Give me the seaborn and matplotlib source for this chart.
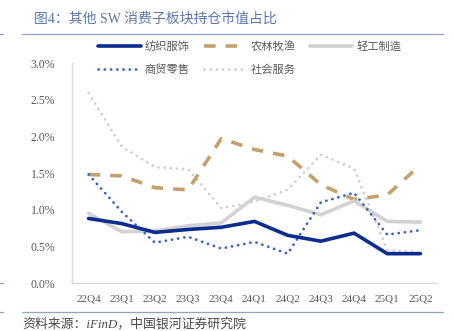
import matplotlib
matplotlib.use("Agg")
import matplotlib.pyplot as plt
from matplotlib.lines import Line2D
from matplotlib.ticker import FuncFormatter
import seaborn as sns
import pandas as pd

quarters = ["22Q4", "23Q1", "23Q2", "23Q3", "23Q4", "24Q1", "24Q2", "24Q3", "24Q4", "25Q1", "25Q2"]
textile = [0.88, 0.81, 0.69, 0.73, 0.76, 0.84, 0.65, 0.57, 0.68, 0.40, 0.40]      # 纺织服饰
agri = [1.48, 1.46, 1.30, 1.27, 1.97, 1.82, 1.73, 1.34, 1.14, 1.20, 1.61]         # 农林牧渔
light_ind = [0.95, 0.70, 0.71, 0.78, 0.82, 1.17, 1.06, 0.93, 1.12, 0.84, 0.83]    # 轻工制造
retail = [1.48, 0.97, 0.55, 0.63, 0.47, 0.56, 0.40, 1.10, 1.23, 0.66, 0.72]       # 商贸零售
social = [2.59, 1.86, 1.58, 1.55, 1.02, 1.11, 1.27, 1.75, 1.56, 0.45, 0.41]       # 社会服务
series_names = ["纺织服饰", "农林牧渔", "轻工制造", "商贸零售", "社会服务"]
y_ticks = [0.0, 0.5, 1.0, 1.5, 2.0, 2.5, 3.0]

title = "图4：其他 SW 消费子板块持仓市值占比"
source = "资料来源：iFinD，中国银河证券研究院"

sns.set_theme(style="white")
plt.rcParams["font.family"] = ["Liberation Serif", "Noto Sans CJK SC", "DejaVu Sans"]

W, H = 454, 331
fig = plt.figure(figsize=(W / 100, H / 100), dpi=100)
fig.patch.set_facecolor("white")
ax = fig.add_axes([72 / W, 1 - 283 / H, (437 - 72) / W, (283 - 63) / H])

df = pd.DataFrame({"q": quarters, "纺织服饰": textile, "农林牧渔": agri,
                   "轻工制造": light_ind, "商贸零售": retail, "社会服务": social})

styles = {
    "纺织服饰": dict(color="#0a2d8f", lw=2.6, ls="-", cap="round"),
    "农林牧渔": dict(color="#c4a06c", lw=2.6, ls=(0, (3.2, 2.8)), cap="butt"),
    "轻工制造": dict(color="#d2d2d2", lw=2.6, ls="-", cap="round"),
    "商贸零售": dict(color="#3a63c2", lw=2.0, ls=(0, (0.05, 2.2)), cap="round"),
    "社会服务": dict(color="#cdcdcd", lw=1.9, ls=(0, (0.05, 2.3)), cap="round"),
}
draw_order = ["社会服务", "农林牧渔", "轻工制造", "商贸零售", "纺织服饰"]
handles = {}
for name in draw_order:
    st = styles[name]
    n_before = len(ax.lines)
    sns.lineplot(data=df, x="q", y=name, ax=ax, color=st["color"], linewidth=st["lw"],
                 linestyle=st["ls"], sort=False, label=name, legend=False)
    line = ax.lines[n_before]
    line.set_dash_capstyle(st["cap"])
    line.set_solid_capstyle("round")
    handles[name] = line

ax.set_xlim(-0.5, 10.5)
ax.set_ylim(0, 3.0)
ax.set_yticks(y_ticks)
ax.yaxis.set_major_formatter(FuncFormatter(lambda v, p: f"{v:.1f}%"))
ax.set_xlabel("")
ax.set_ylabel("")
for s in ["top", "right"]:
    ax.spines[s].set_visible(False)
for s in ["left", "bottom"]:
    ax.spines[s].set_color("#d9d9d9")
    ax.spines[s].set_linewidth(1.0)
ax.tick_params(axis="both", length=0, colors="#595959")
ax.tick_params(axis="y", pad=12, labelsize=8.5)
ax.tick_params(axis="x", pad=8, labelsize=8)
for lab in ax.get_xticklabels() + ax.get_yticklabels():
    lab.set_fontfamily(["Liberation Serif"])
ax.grid(False)

leg_order = ["纺织服饰", "商贸零售", "农林牧渔", "社会服务", "轻工制造"]
leg = fig.legend([handles[n] for n in leg_order], leg_order, ncol=3,
                 loc="upper left", bbox_to_anchor=(98 / W, 1 - 41 / H),
                 frameon=False, borderpad=0, borderaxespad=0,
                 handlelength=3.8, handletextpad=0.35, columnspacing=1.25,
                 labelspacing=1.15,
                 prop={"family": ["Noto Sans CJK SC"], "size": 8.1})
for t in leg.get_texts():
    t.set_color("#595959")

fig.text(34 / W, 1 - 19 / H, title, ha="left", va="center", fontsize=10,
         color="#5a78b2", family=["Liberation Serif", "Noto Sans CJK SC"])
fig.add_artist(Line2D([22 / W, 443 / W], [1 - 34 / H] * 2, transform=fig.transFigure,
                      color="#8fa2c9", lw=0.9))
fig.add_artist(Line2D([22 / W, 443 / W], [1 - 312 / H] * 2, transform=fig.transFigure,
                      color="#8fa2c9", lw=0.9))
fig.add_artist(Line2D([0, 3 / W], [1 - 34 / H] * 2, transform=fig.transFigure,
                      color="#8fa2c9", lw=0.9))
fig.add_artist(Line2D([0, 3 / W], [1 - 283 / H] * 2, transform=fig.transFigure,
                      color="#8fa2c9", lw=0.9))
fig.add_artist(Line2D([0, 3 / W], [1 - 312 / H] * 2, transform=fig.transFigure,
                      color="#8fa2c9", lw=0.9))
fig.text(22 / W, 1 - 324 / H, source, ha="left", va="center", fontsize=9.3,
         color="#4a4a4a", style="italic", family=["Liberation Serif", "Noto Sans CJK SC"])

fig.savefig("out.png", dpi=100, facecolor="white")
